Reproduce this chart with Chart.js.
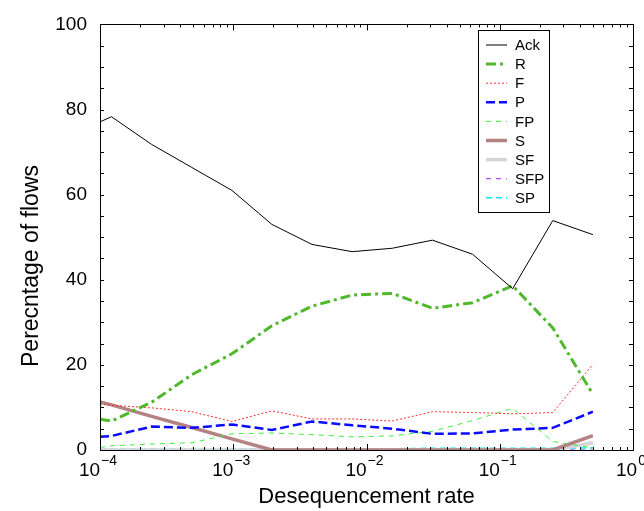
<!DOCTYPE html>
<html>
<head>
<meta charset="utf-8">
<script src="https://cdn.jsdelivr.net/npm/chart.js@4.4.1/dist/chart.umd.min.js"></script>
<style>
  html, body { margin: 0; padding: 0; background: #fff; }
</style>
</head>
<body>
<canvas id="chart" width="644" height="511"></canvas>
<script>
// ===== Data =====
const rates = [0.0001, 0.000122, 0.000244, 0.000488, 0.000977, 0.00195, 0.0039, 0.0078, 0.0156, 0.03125, 0.0625, 0.125, 0.25, 0.5];
const ack = [77.1, 78.3, 71.8, 66.4, 61.0, 53.0, 48.3, 46.6, 47.4, 49.3, 46.0, 37.9, 53.9, 50.6];
const rVals = [7.2, 6.8, 11.2, 17.7, 22.6, 29.2, 33.8, 36.4, 36.8, 33.3, 34.6, 38.6, 28.7, 13.1];
const fVals = [10.8, 10.5, 9.9, 9.0, 6.7, 9.2, 7.3, 7.3, 6.8, 9.0, 8.8, 8.5, 8.8, 20.1];
const pVals = [3.1, 3.3, 5.5, 5.2, 6.0, 4.7, 6.7, 5.8, 5.0, 3.8, 3.9, 4.8, 5.2, 9.0];
const fpVals = [0.6, 1.0, 1.4, 1.7, 3.8, 4.0, 3.6, 3.1, 3.3, 4.4, 6.9, 9.8, 2.0, 0.5];
const sVals = [11.3, 10.6, 7.9, 5.3, 2.6, 0, 0, 0, 0, 0, 0, 0, 0, 3.4];
const sfVals = [0, 0, 0, 0, 0, 0, 0, 0, 0, 0, 0, 0, 0, 1.7];
const sfpVals = [0, 0, 0, 0, 0, 0, 0, 0, 0, 0, 0, 0, 0, 0];
const spVals = [0.2, 0.2, 0.2, 0.2, 0.2, 0.2, 0.2, 0.2, 0.3, 0.4, 0.4, 0.4, 0.4, 0.5];
const seriesNames = ["Ack", "R", "F", "P", "FP", "S", "SF", "SFP", "SP"];
const yTicks = [0, 20, 40, 60, 80, 100];
const xTitle = "Desequencement rate";
const yTitle = "Perecntage of flows";

const FONT = '"Liberation Sans", Arial, Helvetica, sans-serif';

function pts(vals) {
  return rates.map((x, i) => ({ x: x, y: vals[i] }));
}

function line(name, vals, color, width, dash) {
  return {
    label: name,
    data: pts(vals),
    borderColor: color,
    backgroundColor: color,
    borderWidth: width,
    borderDash: dash,
    pointRadius: 0,
    tension: 0,
    fill: false
  };
}

// ===== Frame, ticks, tick labels, y title, legend =====
const decorPlugin = {
  id: "decor",
  afterDraw(chart) {
    const ctx = chart.ctx;
    const area = chart.chartArea;
    const xs = chart.scales.x;
    const ys = chart.scales.y;
    ctx.save();

    // frame
    ctx.strokeStyle = "#000";
    ctx.lineWidth = 1;
    ctx.setLineDash([]);
    ctx.strokeRect(Math.round(area.left) + 0.5, Math.round(area.top) + 0.5,
      Math.round(area.right - area.left), Math.round(area.bottom - area.top));

    // x ticks (log)
    const eMin = Math.round(Math.log10(xs.min));
    const eMax = Math.round(Math.log10(xs.max));
    ctx.beginPath();
    for (let e = eMin; e <= eMax; e++) {
      for (let m = 1; m <= 9; m++) {
        const v = m * Math.pow(10, e);
        if (v > xs.max * 1.0001) break;
        const px = Math.round(xs.getPixelForValue(v)) + 0.5;
        const len = m === 1 ? 6 : 3;
        ctx.moveTo(px, area.bottom);
        ctx.lineTo(px, area.bottom - len);
        ctx.moveTo(px, area.top);
        ctx.lineTo(px, area.top + len);
      }
    }
    // y ticks
    for (let v = ys.min; v <= ys.max; v += 5) {
      const py = Math.round(ys.getPixelForValue(v)) + 0.5;
      ctx.moveTo(area.left, py);
      ctx.lineTo(area.left + 4, py);
      ctx.moveTo(area.right, py);
      ctx.lineTo(area.right - 4, py);
    }
    ctx.stroke();

    // x tick labels with superscripts
    ctx.fillStyle = "#000";
    ctx.textBaseline = "alphabetic";
    ctx.textAlign = "left";
    for (let e = eMin; e <= eMax; e++) {
      const px = xs.getPixelForValue(Math.pow(10, e));
      const sup = e === 0 ? "0" : "\u2212" + Math.abs(e);
      ctx.font = "19px " + FONT;
      const wBase = ctx.measureText("10").width;
      ctx.font = "14px " + FONT;
      const wSup = ctx.measureText(sup).width;
      const x0 = px - (wBase + 1 + wSup) / 2 - 2;
      ctx.font = "19px " + FONT;
      ctx.fillText("10", x0, 476);
      ctx.font = "14px " + FONT;
      ctx.fillText(sup, x0 + wBase + 1, 465);
    }

    // y title
    ctx.save();
    ctx.font = "23px " + FONT;
    ctx.textAlign = "center";
    ctx.textBaseline = "middle";
    ctx.translate(32, 266);
    ctx.rotate(-Math.PI / 2);
    ctx.fillText(yTitle, 0, 0);
    ctx.restore();

    // legend
    const lx = 478.5, ly = 30.5, lw = 71, lh = 182;
    ctx.fillStyle = "#fff";
    ctx.fillRect(lx, ly, lw, lh);
    ctx.strokeStyle = "#000";
    ctx.lineWidth = 1;
    ctx.setLineDash([]);
    ctx.strokeRect(lx, ly, lw, lh);
    ctx.font = "15px " + FONT;
    ctx.textAlign = "left";
    ctx.textBaseline = "middle";
    chart.data.datasets.forEach((ds, i) => {
      const cy = 45 + i * 19.1;
      ctx.save();
      ctx.strokeStyle = ds.borderColor;
      ctx.lineWidth = ds.borderWidth;
      ctx.setLineDash(ds.borderDash || []);
      ctx.beginPath();
      ctx.moveTo(486, cy);
      ctx.lineTo(507, cy);
      ctx.stroke();
      ctx.restore();
      ctx.fillStyle = "#000";
      ctx.fillText(ds.label, 515, cy + 1);
    });

    ctx.restore();
  }
};

// ===== Chart =====
new Chart(document.getElementById("chart"), {
  type: "line",
  data: {
    datasets: [
      line(seriesNames[0], ack, "#000000", 1, []),
      line(seriesNames[1], rVals, "#4fb82c", 3, [10, 4, 3, 4]),
      line(seriesNames[2], fVals, "#ff2a2a", 1, [2, 2]),
      line(seriesNames[3], pVals, "#0a0aff", 2.5, [9, 4]),
      line(seriesNames[4], fpVals, "#3cf03c", 1, [5, 5]),
      line(seriesNames[5], sVals, "#b48282", 3.5, []),
      line(seriesNames[6], sfVals, "#d4d4da", 3.5, []),
      line(seriesNames[7], sfpVals, "#a020f0", 1, [5, 5]),
      line(seriesNames[8], spVals, "#00e8f0", 1.5, [6, 4])
    ]
  },
  options: {
    responsive: false,
    animation: false,
    layout: { padding: { top: 15, right: 11, left: 0, bottom: 0 } },
    plugins: {
      legend: { display: false },
      tooltip: { enabled: false }
    },
    scales: {
      x: {
        type: "logarithmic",
        min: 0.0001,
        max: 1,
        grid: { display: false, drawTicks: false },
        border: { display: false },
        ticks: { display: false },
        title: {
          display: true,
          text: xTitle,
          color: "#000",
          font: { family: FONT, size: 22 },
          padding: { top: 0, bottom: 1 }
        },
        afterFit(scale) { scale.height = 61; }
      },
      y: {
        min: 0,
        max: 100,
        grid: { display: false, drawTicks: false },
        border: { display: false },
        afterBuildTicks(scale) { scale.ticks = yTicks.map(v => ({ value: v })); },
        ticks: {
          color: "#000",
          padding: 13,
          font: { family: FONT, size: 19 }
        },
        title: { display: false },
        afterFit(scale) { scale.width = 100; }
      }
    }
  },
  plugins: [decorPlugin]
});
</script>
</body>
</html>
